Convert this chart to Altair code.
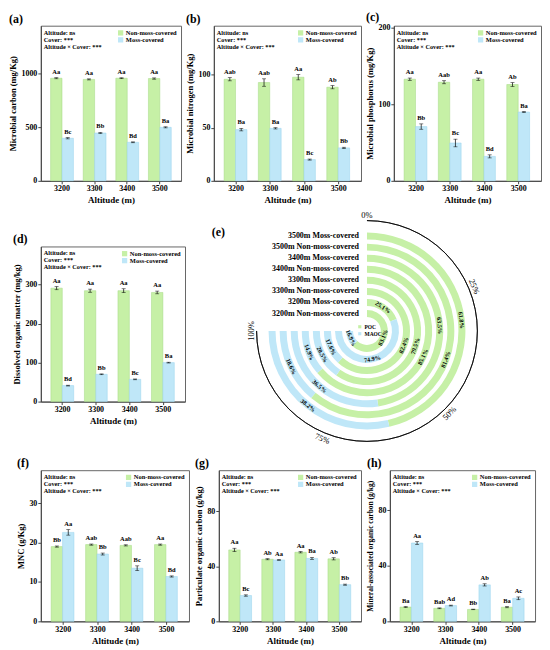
import altair as alt
import pandas as pd

FONT = "Liberation Serif"
GREEN = "#c6f0a6"
BLUE = "#bfe7f8"
GREEN_EDGE = "#a3d983"
BLUE_EDGE = "#98d3ec"
COVERS = ["Non-moss-covered", "Moss-covered"]
ALTS = ["3200", "3300", "3400", "3500"]
STATS = ["Altitude: ns", "Cover: ***", "Altitude \u00d7 Cover: ***"]

# (a) Microbial carbon
mbc_non = [959, 948, 959, 956]
mbc_non_err = [5, 5, 4, 6]
mbc_moss = [398, 447, 360, 500]
mbc_moss_err = [6, 5, 4, 5]
mbc_non_lab = ["Aa", "Aa", "Aa", "Aa"]
mbc_moss_lab = ["Bc", "Bb", "Bd", "Ba"]

# (b) Microbial nitrogen
mbn_non = [95.6, 92.5, 97.5, 88.1]
mbn_non_err = [1.5, 3.5, 2.5, 1.5]
mbn_moss = [48.2, 49.4, 20.0, 31.0]
mbn_moss_err = [1.2, 0.6, 0.5, 0.6]
mbn_non_lab = ["Aab", "Aab", "Aa", "Ab"]
mbn_moss_lab = ["Ba", "Ba", "Bc", "Bb"]

# (c) Microbial phosphorus
mbp_non = [133, 129, 133, 126]
mbp_non_err = [1.5, 2, 1.5, 2.5]
mbp_moss = [71, 49.5, 32, 90]
mbp_moss_err = [3.5, 5, 2, 0.7]
mbp_non_lab = ["Aa", "Aab", "Aa", "Ab"]
mbp_moss_lab = ["Bb", "Bc", "Bd", "Ba"]

# (d) Dissolved organic matter
dom_non = [291, 284.5, 284.5, 280]
dom_non_err = [4, 4, 5, 3.5]
dom_moss = [41, 70, 57, 100]
dom_moss_err = [1, 1, 1, 1]
dom_non_lab = ["Aa", "Aa", "Aa", "Aa"]
dom_moss_lab = ["Bd", "Bb", "Bc", "Ba"]

# (f) MNC
mnc_non = [19.0, 19.5, 19.3, 19.5]
mnc_non_err = [0.15, 0.15, 0.15, 0.15]
mnc_moss = [22.6, 17.1, 13.5, 11.4]
mnc_moss_err = [0.7, 0.25, 0.6, 0.15]
mnc_non_lab = ["Bb", "Aab", "Aab", "Aa"]
mnc_moss_lab = ["Aa", "Bb", "Bc", "Bd"]

# (g) Particulate organic carbon
poc_non = [52.0, 45.2, 50.3, 45.5]
poc_non_err = [1.2, 0.4, 0.5, 0.8]
poc_moss = [18.8, 44.7, 45.8, 26.7]
poc_moss_err = [0.5, 0.3, 0.7, 0.4]
poc_non_lab = ["Aa", "Ab", "Aa", "Ab"]
poc_moss_lab = ["Bc", "Aa", "Ba", "Bb"]

# (h) Mineral-associated organic carbon
maoc_non = [10.3, 9.4, 8.6, 10.2]
maoc_non_err = [0.4, 0.3, 0.2, 0.4]
maoc_moss = [56.5, 11.4, 26.3, 16.6]
maoc_moss_err = [1.0, 0.3, 0.8, 1.0]
maoc_non_lab = ["Ba", "Bab", "Bb", "Ba"]
maoc_moss_lab = ["Aa", "Ad", "Ab", "Ac"]

# (e) POC / MAOC proportions, innermost ring first
ring_names = ["3200m Non-moss-covered", "3200m Moss-covered",
              "3300m Non-moss-covered", "3300m Moss-covered",
              "3400m Non-moss-covered", "3400m Moss-covered",
              "3500m Non-moss-covered", "3500m Moss-covered"]
ring_poc = [83.1, 25.1, 82.4, 79.5, 85.1, 63.5, 81.4, 61.8]
ring_maoc = [16.9, 74.9, 17.6, 20.5, 14.9, 36.5, 18.6, 38.2]
ring_ticks = [0, 25, 50, 75, 100]


def bar_panel(tag, ytitle, non, non_err, moss, moss_err, non_lab, moss_lab,
              ydomain, yticks, w, h, ytitle_size=8.5):
    rows = []
    for i, a in enumerate(ALTS):
        rows.append(dict(altitude=a, cover=COVERS[0], value=non[i], err=non_err[i], lab=non_lab[i]))
        rows.append(dict(altitude=a, cover=COVERS[1], value=moss[i], err=moss_err[i], lab=moss_lab[i]))
    df = pd.DataFrame(rows)
    base = alt.Chart(df).transform_calculate(
        lo="datum.value - datum.err", hi="datum.value + datum.err"
    )
    X = alt.X("altitude:N", sort=ALTS, title="Altitude (m)",
              scale=alt.Scale(paddingInner=0.3, paddingOuter=0.3),
              axis=alt.Axis(labelAngle=0))
    XO = alt.XOffset("cover:N", sort=COVERS, scale=alt.Scale(domain=COVERS))
    ysc = alt.Scale(domain=ydomain, nice=False, zero=True)
    bars = base.mark_bar(strokeWidth=0.5).encode(
        x=X, xOffset=XO,
        y=alt.Y("value:Q", scale=ysc, title=ytitle,
                axis=alt.Axis(values=yticks, format="d", titleFontSize=ytitle_size)),
        color=alt.Color("cover:N", scale=alt.Scale(domain=COVERS, range=[GREEN, BLUE]),
                        legend=alt.Legend(orient="top-right", title=None, symbolType="square",
                                          symbolSize=28, symbolStrokeWidth=0,
                                          labelFontSize=6.5, labelFont=FONT,
                                          labelFontWeight="bold", rowPadding=0,
                                          padding=0, offset=4, labelOffset=2)),
        stroke=alt.Stroke("cover:N", scale=alt.Scale(domain=COVERS, range=[GREEN_EDGE, BLUE_EDGE]),
                          legend=None),
    )
    rule = base.mark_rule(color="black", strokeWidth=0.7).encode(
        x=X, xOffset=XO, y=alt.Y("lo:Q", scale=ysc), y2="hi:Q")
    cap_lo = base.mark_tick(color="black", size=4, thickness=0.7).encode(
        x=X, xOffset=XO, y=alt.Y("lo:Q", scale=ysc))
    cap_hi = base.mark_tick(color="black", size=4, thickness=0.7).encode(
        x=X, xOffset=XO, y=alt.Y("hi:Q", scale=ysc))
    labs = base.mark_text(dy=-6, fontSize=6.5, font=FONT, fontWeight="bold",
                          color="black").encode(
        x=X, xOffset=XO, y=alt.Y("hi:Q", scale=ysc), text="lab:N")
    stats = alt.Chart(pd.DataFrame({"k": [0]})).mark_text(
        align="left", baseline="top", fontSize=6.3, font=FONT, fontWeight="bold",
        lineHeight=7, color="black"
    ).encode(x=alt.value(3), y=alt.value(4), text=alt.value(STATS))
    return alt.layer(bars, rule, cap_lo, cap_hi, labs, stats).properties(
        width=w, height=h,
        title=alt.TitleParams(tag, anchor="start", frame="bounds", fontSize=12,
                              font=FONT, fontWeight="bold", offset=0),
        view=alt.ViewBackground(stroke="#666666", strokeWidth=1),
    )


def ring_panel(w, h, cx, cy):
    rows = []
    for i, name in enumerate(ring_names):
        rows.append(dict(ring=i, name=name, comp="POC", start=0.0, pct=ring_poc[i]))
        rows.append(dict(ring=i, name=name, comp="MAOC", start=ring_poc[i], pct=ring_maoc[i]))
    df = pd.DataFrame(rows)
    df["lab"] = df["pct"].map(lambda v: f"{v:.1f}%")
    TS = alt.Scale(domain=[0, 100], range=[0, 4.712389])
    RS = alt.Scale(type="linear", domain=[0, 8], range=[14, 103.1], zero=False)
    base = alt.Chart(df).transform_calculate(
        end="datum.start + datum.pct",
        r_in="datum.ring",
        r_out="datum.ring + 0.63",
        r_mid="datum.ring + 0.315",
        mid="datum.start + datum.pct / 2",
        t0="0",
    ).transform_calculate(
        ang="datum.mid * 2.7"
    ).transform_calculate(
        rot="((datum.ang > 90 && datum.ang < 270) ? datum.ang - 180 : datum.ang) + 360"
    ).transform_calculate(
        rot360="datum.rot % 360"
    )
    arcs = base.mark_arc().encode(
        theta=alt.Theta("start:Q", scale=TS, stack=False),
        theta2="end:Q",
        radius=alt.Radius("r_out:Q", scale=RS),
        radius2="r_in:Q",
        color=alt.Color("comp:N", scale=alt.Scale(domain=["POC", "MAOC"], range=[GREEN, BLUE]),
                        legend=alt.Legend(orient="none", legendX=cx - 10, legendY=cy - 7,
                                          title=None, symbolType="square", symbolSize=10,
                                          symbolStrokeWidth=0, labelFontSize=5.5,
                                          labelFont=FONT, labelFontWeight="bold",
                                          rowPadding=0, padding=0, labelOffset=2)),
        x=alt.value(cx), y=alt.value(cy),
    )
    names = base.transform_filter("datum.comp == 'POC'").mark_text(
        align="right", baseline="middle", dx=-8, fontSize=8, font=FONT,
        fontWeight="bold", color="black"
    ).encode(
        theta=alt.Theta("t0:Q", scale=TS, stack=False),
        radius=alt.Radius("r_mid:Q", scale=RS),
        text="name:N", x=alt.value(cx), y=alt.value(cy),
    )
    pct = base.mark_text(fontSize=6.2, font=FONT, fontWeight="bold", color="black",
                         baseline="middle").encode(
        theta=alt.Theta("mid:Q", scale=TS, stack=False),
        radius=alt.Radius("r_mid:Q", scale=RS),
        angle=alt.Angle("rot360:Q", scale=None),
        text="lab:N", x=alt.value(cx), y=alt.value(cy),
    )
    line = alt.Chart(pd.DataFrame({"k": [0]})).mark_arc(
        fillOpacity=0, stroke="black", strokeWidth=0.8
    ).encode(theta=alt.value(0), theta2=alt.value(4.712389),
             radius=alt.value(111), radius2=alt.value(111),
             x=alt.value(cx), y=alt.value(cy))
    tdf = pd.DataFrame({"p": ring_ticks})
    tdf["lab"] = tdf["p"].map(lambda v: f"{v}%")
    ticks = alt.Chart(tdf).transform_calculate(
        ang="datum.p * 2.7"
    ).transform_calculate(
        rot="(((datum.ang > 90 && datum.ang < 270) ? datum.ang - 180 : datum.ang) + 360) % 360"
    ).mark_text(fontSize=8.5, font=FONT, color="black", baseline="middle").encode(
        theta=alt.Theta("p:Q", scale=TS, stack=False),
        radius=alt.value(117),
        angle=alt.Angle("rot:Q", scale=None),
        text="lab:N", x=alt.value(cx), y=alt.value(cy),
    )
    tag = alt.Chart(pd.DataFrame({"k": [0]})).mark_text(
        align="left", baseline="top", fontSize=12, font=FONT, fontWeight="bold",
        color="black"
    ).encode(x=alt.value(20), y=alt.value(-20), text=alt.value("(e)"))
    return alt.layer(arcs, line, names, pct, ticks, tag).properties(
        width=w, height=h, view=alt.ViewBackground(strokeWidth=0)
    )


H1 = 156
H3 = 152
pa = bar_panel("(a)", "Microbial carbon (mg/Kg)", mbc_non, mbc_non_err, mbc_moss, mbc_moss_err,
               mbc_non_lab, mbc_moss_lab, [0, 1450], [0, 500, 1000], 141, H1)
pb = bar_panel("(b)", "Microbial nitrogen (mg/Kg)", mbn_non, mbn_non_err, mbn_moss, mbn_moss_err,
               mbn_non_lab, mbn_moss_lab, [0, 146], [0, 50, 100], 148, H1)
pc = bar_panel("(c)", "Microbial phosphorus (mg/Kg)", mbp_non, mbp_non_err, mbp_moss, mbp_moss_err,
               mbp_non_lab, mbp_moss_lab, [0, 203], [0, 50, 100, 150, 200], 148, H1)
pd_ = bar_panel("(d)", "Dissolved organic matter (mg/kg)", dom_non, dom_non_err, dom_moss, dom_moss_err,
                dom_non_lab, dom_moss_lab, [0, 398], [0, 100, 200, 300], 145, H1)
pe = ring_panel(310, 150, 176, 85)
pf = bar_panel("(f)", "MNC (g/Kg)", mnc_non, mnc_non_err, mnc_moss, mnc_moss_err,
               mnc_non_lab, mnc_moss_lab, [0, 38.4], [0, 10, 20, 30], 149, H3)
pg = bar_panel("(g)", "Particulate organic carbon (g/kg)", poc_non, poc_non_err, poc_moss, poc_moss_err,
               poc_non_lab, poc_moss_lab, [0, 110], [0, 20, 40, 60, 80, 100], 143, H3)
ph = bar_panel("(h)", "Mineral-associated organic carbon (g/kg)", maoc_non, maoc_non_err, maoc_moss,
               maoc_moss_err, maoc_non_lab, maoc_moss_lab, [0, 109], [0, 20, 40, 60, 80, 100], 146, H3,
               ytitle_size=7.5)

row1 = alt.hconcat(pa, pb, pc, spacing=3).resolve_scale(color="independent", stroke="independent")
row2 = alt.hconcat(pd_, pe, spacing=6).resolve_scale(color="independent", stroke="independent")
row3 = alt.hconcat(pf, pg, ph, spacing=4).resolve_scale(color="independent", stroke="independent")

lower = alt.vconcat(row2, row3, spacing=225, bounds="flush").resolve_scale(
    color="independent", stroke="independent")

chart = alt.vconcat(row1, lower, spacing=222, bounds="flush").resolve_scale(
    color="independent", stroke="independent"
).properties(padding=0, background="white").configure_axis(
    labelFont=FONT, labelFontWeight="bold", labelFontSize=8, labelColor="black",
    titleFont=FONT, titleFontWeight="bold", titleFontSize=9, titleColor="black",
    grid=False, domainColor="#444444", tickColor="#444444", tickSize=3,
    labelPadding=1, titlePadding=3,
).configure_view(stroke=None)

chart.save("out.html", embed_options={"renderer": "svg", "actions": False})
